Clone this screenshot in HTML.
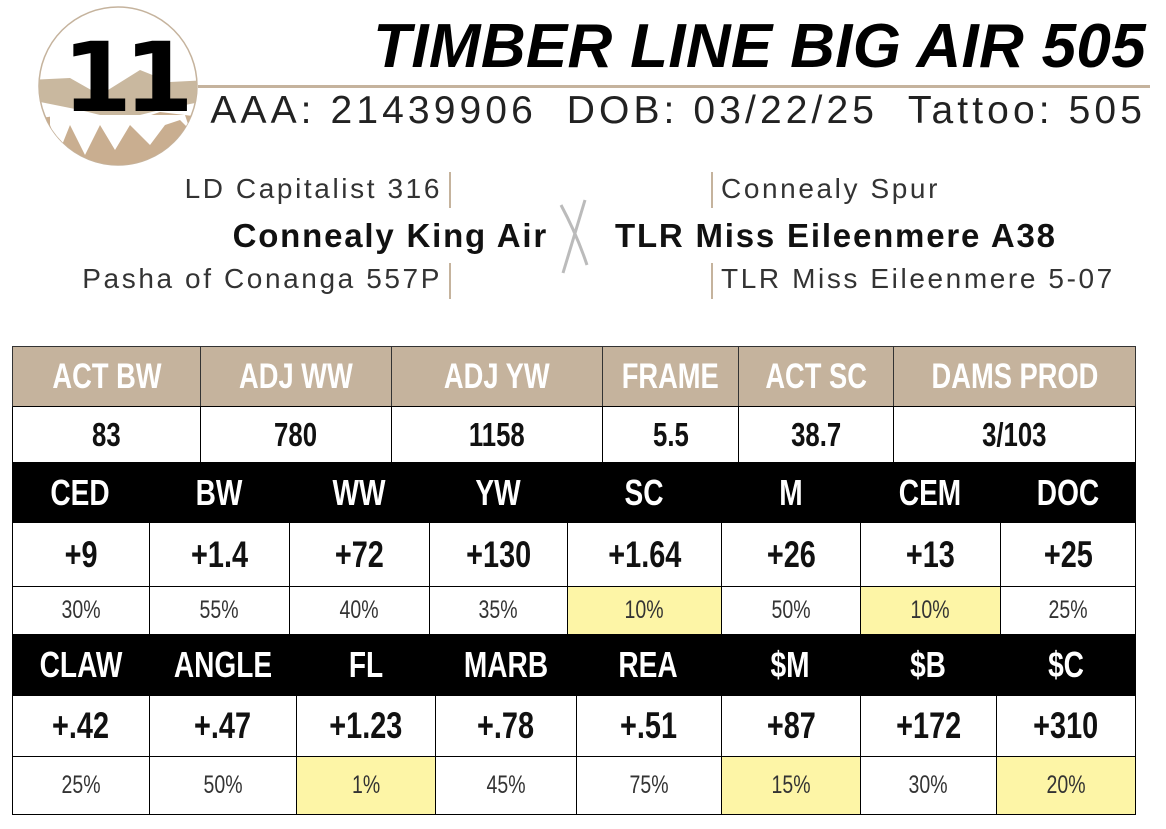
<!DOCTYPE html>
<html><head><meta charset="utf-8"><style>
body{margin:0;width:1166px;height:829px;background:#fff;position:relative;overflow:hidden;font-family:"Liberation Sans",sans-serif}
.a{position:absolute;white-space:nowrap}
.row{position:absolute;left:12px;width:1124px;display:flex;box-sizing:border-box}
.row div{box-sizing:border-box;display:flex;align-items:center;justify-content:center;white-space:nowrap}
.row span{display:inline-block;transform:scaleX(0.78)}
.tan div{background:#c5b39d;color:#fff;font-weight:bold;font-size:35px;border-right:1px solid #333}
.val div{background:#fff;color:#111;font-weight:bold;font-size:33px;border-right:1px solid #000}
.blk{background:#000}
.blk div{color:#fff;font-weight:bold;font-size:36px}
.epd div{color:#111;font-weight:bold;font-size:37px;border-right:1px solid #000}
.pct div{color:#333;font-size:25px;border-right:1px solid #000}
.y{background:#fdf5a6}
.row div:last-child{border-right:none}
.p{font-size:28px;color:#333;line-height:1;letter-spacing:2.6px}
.b{font-size:33px;font-weight:bold;color:#111;line-height:1;letter-spacing:1.8px}
</style></head><body>
<svg class="a" style="left:0;top:0" width="240" height="175">
<defs><clipPath id="c"><circle cx="118" cy="86" r="79"/></clipPath></defs>
<circle cx="118" cy="86" r="79" fill="#fff" stroke="#c5b39d" stroke-width="1.5"/>
<g clip-path="url(#c)">
<path d="M30 80 L70 78 L100 95 L140 70 L170 82 L210 80 L210 100 L160 110 L120 120 L80 110 L30 100Z" fill="#c9b89f"/>
<path d="M30 120 L60 115 L80 125 L100 115 L130 122 L160 112 L210 118 L210 175 L30 175Z" fill="#c9ae90"/>
<path d="M50 125 L60 150 L70 125 L85 155 L100 125 L115 150 L130 125 L150 145 L165 125 L180 120 L190 130 L185 115 L50 115Z" fill="#fff"/>
</g>
</svg>
<div class="a" style="left:62px;top:30px;font-size:96px;font-weight:900;letter-spacing:-8px;color:#000;line-height:1;font-family:'DejaVu Sans','Liberation Sans',sans-serif;transform:scaleX(1.05);transform-origin:left">11</div>
<div class="a" style="left:198px;top:85px;width:952px;height:3px;background:#c5b39d"></div>
<div class="a" style="right:20px;top:16px;font-size:62px;font-weight:bold;font-style:italic;color:#000;line-height:1;letter-spacing:0.3px">TIMBER LINE BIG AIR 505</div>
<div class="a" style="right:20px;top:91px;font-size:39px;color:#222;line-height:1;letter-spacing:4.1px">AAA: 21439906&nbsp;&nbsp;DOB: 03/22/25&nbsp;&nbsp;Tattoo: 505</div>
<div class="a p" style="right:724px;top:175px">LD Capitalist 316</div>
<div class="a" style="left:449px;top:172px;width:2px;height:36px;background:#c5b39d"></div>
<div class="a b" style="right:618px;top:219px">Connealy King Air</div>
<div class="a p" style="right:724px;top:265px">Pasha of Conanga 557P</div>
<div class="a" style="left:449px;top:263px;width:2px;height:36px;background:#c5b39d"></div>
<svg class="a" style="left:555px;top:195px" width="40" height="85"><path d="M30 5 L8 78 M6 10 Q22 40 32 70" stroke="#bbb" stroke-width="3" fill="none"/></svg>
<div class="a" style="left:711px;top:172px;width:2px;height:36px;background:#c5b39d"></div>
<div class="a p" style="left:721px;top:175px">Connealy Spur</div>
<div class="a b" style="left:615px;top:219px">TLR Miss Eileenmere A38</div>
<div class="a" style="left:711px;top:263px;width:2px;height:36px;background:#c5b39d"></div>
<div class="a p" style="left:721px;top:265px">TLR Miss Eileenmere 5-07</div>

<div class="row tan" style="top:346px;height:61px;border:1px solid #333;border-bottom:1px solid #000">
<div style="width:188px"><span>ACT BW</span></div><div style="width:191px"><span>ADJ WW</span></div><div style="width:211px"><span>ADJ YW</span></div><div style="width:136px"><span>FRAME</span></div><div style="width:155px"><span>ACT SC</span></div><div style="flex:1"><span>DAMS PROD</span></div></div>
<div class="row val" style="top:407px;height:55px;border-left:1px solid #000;border-right:1px solid #000">
<div style="width:188px"><span>83</span></div><div style="width:191px"><span>780</span></div><div style="width:211px"><span>1158</span></div><div style="width:136px"><span>5.5</span></div><div style="width:155px"><span>38.7</span></div><div style="flex:1"><span>3/103</span></div></div>

<div class="row blk" style="top:462px;height:61px">
<div style="width:137px"><span>CED</span></div><div style="width:140px"><span>BW</span></div><div style="width:140px"><span>WW</span></div><div style="width:138px"><span>YW</span></div><div style="width:154px"><span>SC</span></div><div style="width:139px"><span>M</span></div><div style="width:140px"><span>CEM</span></div><div style="flex:1"><span>DOC</span></div></div>
<div class="row epd" style="top:523px;height:64px;border-left:1px solid #000;border-right:1px solid #000;border-bottom:1px solid #000">
<div style="width:137px"><span>+9</span></div><div style="width:140px"><span>+1.4</span></div><div style="width:140px"><span>+72</span></div><div style="width:138px"><span>+130</span></div><div style="width:154px"><span>+1.64</span></div><div style="width:139px"><span>+26</span></div><div style="width:140px"><span>+13</span></div><div style="flex:1"><span>+25</span></div></div>
<div class="row pct" style="top:587px;height:47px;border-left:1px solid #000;border-right:1px solid #000">
<div style="width:137px"><span>30%</span></div><div style="width:140px"><span>55%</span></div><div style="width:140px"><span>40%</span></div><div style="width:138px"><span>35%</span></div><div class="y" style="width:154px"><span>10%</span></div><div style="width:139px"><span>50%</span></div><div class="y" style="width:140px"><span>10%</span></div><div style="flex:1"><span>25%</span></div></div>

<div class="row blk" style="top:634px;height:62px">
<div style="width:137px"><span>CLAW</span></div><div style="width:147px"><span>ANGLE</span></div><div style="width:139px"><span>FL</span></div><div style="width:141px"><span>MARB</span></div><div style="width:145px"><span>REA</span></div><div style="width:139px"><span>$M</span></div><div style="width:136px"><span>$B</span></div><div style="flex:1"><span>$C</span></div></div>
<div class="row epd" style="top:696px;height:61px;border-left:1px solid #000;border-right:1px solid #000;border-bottom:1px solid #000">
<div style="width:137px"><span>+.42</span></div><div style="width:147px"><span>+.47</span></div><div style="width:139px"><span>+1.23</span></div><div style="width:141px"><span>+.78</span></div><div style="width:145px"><span>+.51</span></div><div style="width:139px"><span>+87</span></div><div style="width:136px"><span>+172</span></div><div style="flex:1"><span>+310</span></div></div>
<div class="row pct" style="top:757px;height:58px;border:1px solid #000;border-top:none">
<div style="width:137px"><span>25%</span></div><div style="width:147px"><span>50%</span></div><div class="y" style="width:139px"><span>1%</span></div><div style="width:141px"><span>45%</span></div><div style="width:145px"><span>75%</span></div><div class="y" style="width:139px"><span>15%</span></div><div style="width:136px"><span>30%</span></div><div class="y" style="flex:1"><span>20%</span></div></div>
</body></html>
